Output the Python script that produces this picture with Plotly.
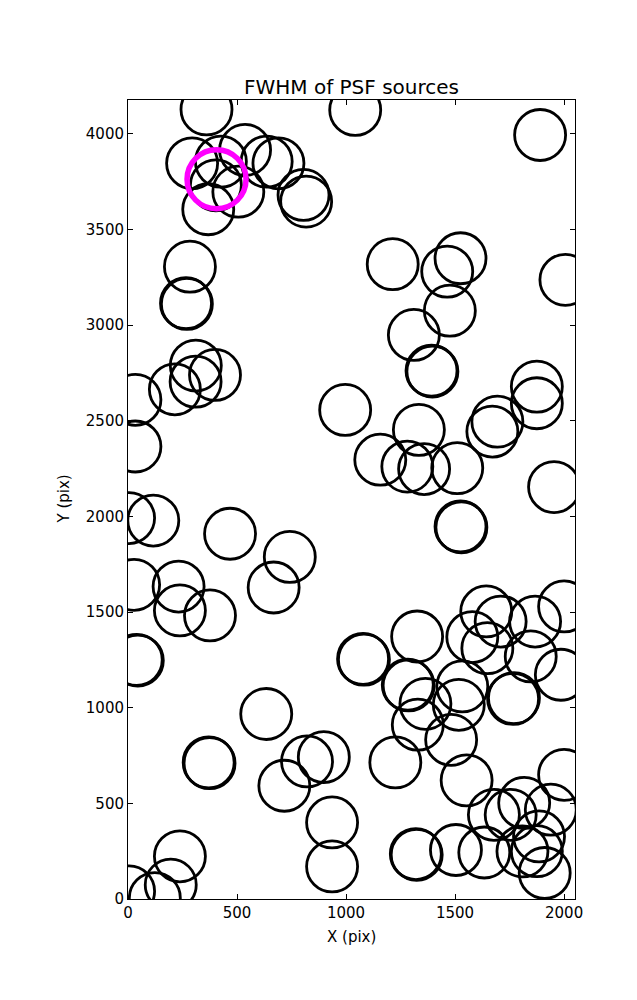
import plotly.graph_objects as go

# PSF source positions (pix)
x_src = [360, 294, 426, 537, 636, 690, 805, 817, 403, 506, 368,
         284, 266, 270, 311, 399, 310, 215, 34, 34,
         1042, 1890, 1214, 1464, 1525, 2006, 1476, 1311, 1392, 1396,
         996, 1157, 1281, 1358, 1510, 1334, 1694, 1671, 1875, 1875, 1954,
         1525, 1529,
         5, 116, 28, 232, 238, 376, 468, 668, 742, 40, 45,
         1643, 1709, 1867, 2000, 1579, 1648, 1847, 1985, 1326, 1078, 1082,
         1283, 1287, 1533, 1364, 1517, 1329, 1482, 1770, 1766, 1226, 1553, 2000,
         370, 374, 634, 717, 821, 898, 936, 936, 238, 196, 123, 5,
         1678, 1755, 1817, 1939, 1885, 1809, 1911, 1875, 1634, 1504, 1320, 1324]
y_src = [4127, 3845, 3854, 3915, 3854, 3845, 3680, 3645, 3730, 3697, 3605,
         3305, 3114, 3110, 2788, 2739, 2704, 2664, 2609, 2365,
         4124, 3993, 3318, 3279, 3349, 3236, 3075, 2948, 2761, 2757,
         2556, 2296, 2260, 2247, 2252, 2452, 2495, 2443, 2678, 2591, 2153,
         1947, 1943,
         1991, 1978, 1642, 1633, 1508, 1482, 1909, 1628, 1788, 1250, 1246,
         1503, 1450, 1450, 1529, 1369, 1311, 1268, 1172, 1372, 1255, 1251,
         1120, 1116, 1111, 1020, 1015, 911, 832, 1050, 1046, 714, 620, 649,
         714, 710, 967, 592, 719, 742, 400, 170, 223, 75, 5, 40,
         440, 440, 502, 467, 327, 249, 136, 250, 243, 256, 235, 231]

# highlighted source
x_sel = [406]
y_sel = [3762]

x_ticks = [0, 500, 1000, 1500, 2000]
y_ticks = [0, 500, 1000, 1500, 2000, 2500, 3000, 3500, 4000]

title_text = "FWHM of PSF sources"
x_label = "X (pix)"
y_label = "Y (pix)"

font_family = "DejaVu Sans"

fig = go.Figure()
fig.add_trace(go.Scatter(
    x=x_src, y=y_src, mode="markers",
    marker=dict(symbol="circle-open", size=51, color="black",
                line=dict(width=2.8, color="black")),
    hoverinfo="skip", showlegend=False))
fig.add_trace(go.Scatter(
    x=x_sel, y=y_sel, mode="markers",
    marker=dict(symbol="circle-open", size=59, color="#ff00ff",
                line=dict(width=5.5, color="#ff00ff")),
    hoverinfo="skip", showlegend=False))

axis_common = dict(
    showgrid=False, zeroline=False, showline=True, linecolor="black",
    linewidth=1, mirror="ticks", ticks="inside", ticklen=5, tickwidth=1,
    tickcolor="black", tickfont=dict(family=font_family, size=15, color="black"),
)

fig.update_layout(
    width=637, height=1000,
    margin=dict(l=120, r=70, t=92, b=109),
    paper_bgcolor="white", plot_bgcolor="white",
    font=dict(family=font_family, color="black"),
    xaxis=dict(range=[0, 2050], tickvals=x_ticks, ticktext=[str(v) for v in x_ticks],
               **axis_common),
    yaxis=dict(range=[0, 4176], tickvals=y_ticks, ticktext=[str(v) for v in y_ticks],
               **axis_common),
    title=dict(text=title_text, x=0.5, xref="paper", xanchor="center",
               y=1 - 79 / 1000, yref="container", yanchor="middle",
               font=dict(family=font_family, size=20, color="black")),
    annotations=[
        dict(text=x_label, x=0.5, xref="paper", y=-38 / 799, yref="paper",
             xanchor="center", yanchor="middle", showarrow=False,
             font=dict(family=font_family, size=15, color="black")),
        dict(text=y_label, x=-65 / 447, xref="paper", y=0.5, yref="paper",
             xanchor="center", yanchor="middle", showarrow=False, textangle=-90,
             font=dict(family=font_family, size=15, color="black")),
    ],
)

fig.write_html("out.html")
